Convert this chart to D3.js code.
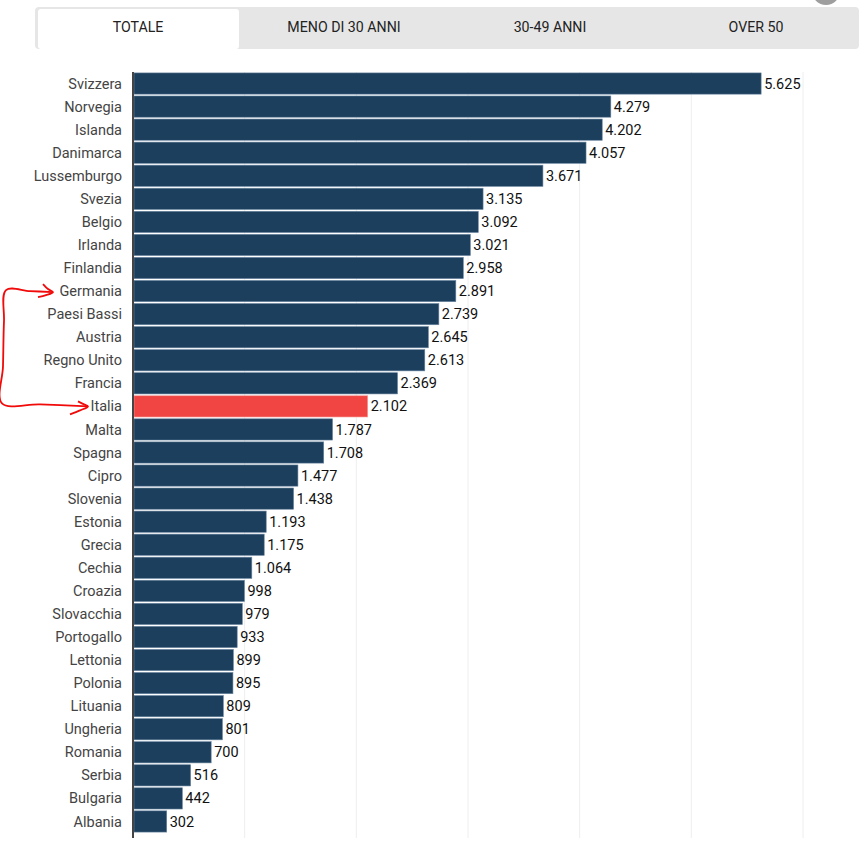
<!DOCTYPE html>
<html>
<head>
<meta charset="utf-8">
<script src="https://cdn.jsdelivr.net/npm/d3@7"></script>
<style>
  body { margin: 0; background: #fff; font-family: Roboto, "Noto Sans", sans-serif; }
  svg { display: block; }
</style>
</head>
<body>
<div id="chart"></div>
<script>
var tabs = ["TOTALE", "MENO DI 30 ANNI", "30-49 ANNI", "OVER 50"];
var countries = ["Svizzera", "Norvegia", "Islanda", "Danimarca", "Lussemburgo", "Svezia", "Belgio",
    "Irlanda", "Finlandia", "Germania", "Paesi Bassi", "Austria", "Regno Unito", "Francia", "Italia",
    "Malta", "Spagna", "Cipro", "Slovenia", "Estonia", "Grecia", "Cechia", "Croazia", "Slovacchia",
    "Portogallo", "Lettonia", "Polonia", "Lituania", "Ungheria", "Romania", "Serbia", "Bulgaria", "Albania"];
var values = [5625, 4279, 4202, 4057, 3671, 3135, 3092, 3021, 2958, 2891, 2739, 2645, 2613, 2369, 2102,
    1787, 1708, 1477, 1438, 1193, 1175, 1064, 998, 979, 933, 899, 895, 809, 801, 700, 516, 442, 302];
var gridTicks = [1000, 2000, 3000, 4000, 5000, 6000];
var highlight = "Italia";
var arrowFrom = "Germania";

var data = countries.map(function(c, i) { return { country: c, value: values[i] }; });

var width = 867, height = 851;
var svg = d3.select("#chart").append("svg")
    .attr("width", width)
    .attr("height", height);

// tabs bar
var tabX = d3.scaleBand().domain(tabs).range([35, 859]);
svg.append("rect")
    .attr("x", 35).attr("y", 7).attr("width", 824).attr("height", 42)
    .attr("rx", 4).attr("fill", "#e6e6e6");
svg.append("rect")
    .attr("x", 38).attr("y", 9).attr("width", tabX.bandwidth() - 5).attr("height", 40)
    .attr("rx", 3).attr("fill", "#fff");
svg.selectAll(".tab")
    .data(tabs)
    .enter().append("text")
    .attr("class", "tab")
    .attr("x", function(d) { return tabX(d) + tabX.bandwidth() / 2; })
    .attr("y", 32)
    .attr("text-anchor", "middle")
    .attr("font-size", 14.2)
    .attr("fill", "#222")
    .text(function(d) { return d; });

// little grey button peeking at top right
svg.append("circle")
    .attr("cx", 826).attr("cy", -9).attr("r", 14)
    .attr("fill", "#9e9e9e");

var x = d3.scaleLinear().domain([0, 6000]).range([133, 803]);
var y = d3.scaleBand().domain(countries).range([72, 833]).paddingInner(0.08).paddingOuter(0.04);

// gridlines
svg.selectAll(".grid")
    .data(gridTicks)
    .enter().append("line")
    .attr("class", "grid")
    .attr("x1", function(d) { return x(d); })
    .attr("x2", function(d) { return x(d); })
    .attr("y1", 72).attr("y2", 838)
    .attr("stroke", "#eeeeee")
    .attr("stroke-width", 1);

svg.selectAll(".bar")
    .data(data)
    .enter().append("rect")
    .attr("class", "bar")
    .attr("x", x(0) + 1)
    .attr("y", function(d) { return y(d.country); })
    .attr("width", function(d) { return x(d.value) - x(0) - 1; })
    .attr("height", y.bandwidth())
    .attr("fill", function(d) { return d.country === highlight ? "#f04542" : "#1b3f5c"; })
    .attr("stroke", function(d) { return d.country === highlight ? "#f6a09c" : "#6a85a0"; })
    .attr("stroke-width", 0.6);

var fmt = d3.formatLocale({ decimal: ",", thousands: ".", grouping: [3], currency: ["€", ""] }).format(",");

svg.selectAll(".val")
    .data(data)
    .enter().append("text")
    .attr("class", "val")
    .attr("x", function(d) { return x(d.value) + 3; })
    .attr("y", function(d) { return y(d.country) + y.bandwidth() / 2; })
    .attr("dy", "0.35em")
    .attr("font-size", 14.5)
    .attr("fill", "#111")
    .text(function(d) { return fmt(d.value); });

svg.selectAll(".lbl")
    .data(data)
    .enter().append("text")
    .attr("class", "lbl")
    .attr("x", 122)
    .attr("y", function(d) { return y(d.country) + y.bandwidth() / 2; })
    .attr("dy", "0.35em")
    .attr("text-anchor", "end")
    .attr("font-size", 14.5)
    .attr("fill", "#444")
    .text(function(d) { return d.country; });

// axis line
svg.append("line")
    .attr("x1", x(0)).attr("x2", x(0))
    .attr("y1", 72).attr("y2", 838)
    .attr("stroke", "#444")
    .attr("stroke-width", 2);

// hand drawn red arrow Germania -> Italia
var yA = y(arrowFrom) + y.bandwidth() / 2;
var yB = y(highlight) + y.bandwidth() / 2;
var red = "#f00a0a";
var arrow = d3.line().curve(d3.curveCatmullRom);
svg.append("path")
    .attr("d", arrow([[53, yA + 1], [30, yA], [6, yA - 1], [4, yA + 30], [3, yB - 40], [2, yB - 3],
        [40, yB - 2], [88, yB]]))
    .attr("fill", "none").attr("stroke", red).attr("stroke-width", 1.8);
svg.append("path")
    .attr("d", arrow([[43, yA - 7], [48, yA - 2], [53, yA + 1], [46, yA + 4], [38, yA + 6]]))
    .attr("fill", "none").attr("stroke", red).attr("stroke-width", 1.8);
svg.append("path")
    .attr("d", arrow([[78, yB - 5], [84, yB - 2], [88, yB], [80, yB + 4], [70, yB + 8]]))
    .attr("fill", "none").attr("stroke", red).attr("stroke-width", 1.8);
</script>
</body>
</html>
